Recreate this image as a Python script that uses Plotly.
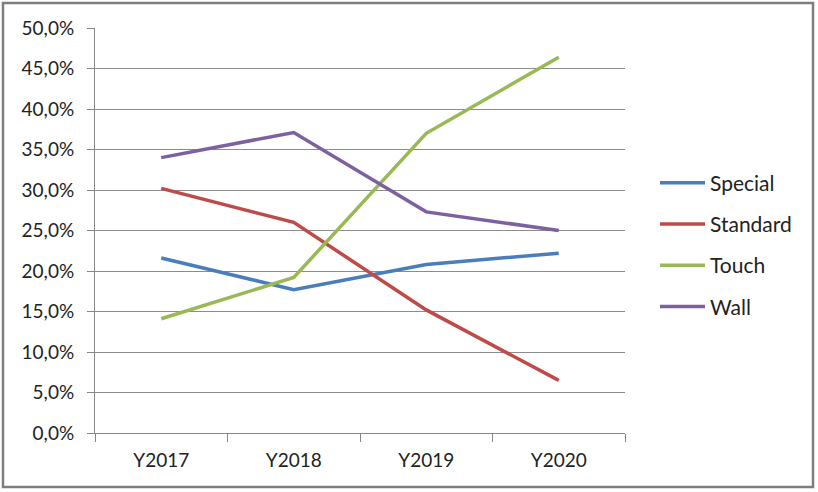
import plotly.graph_objects as go

categories = ["Y2017", "Y2018", "Y2019", "Y2020"]
special = [0.216, 0.177, 0.208, 0.222]
standard = [0.302, 0.260, 0.152, 0.065]
touch = [0.141, 0.192, 0.370, 0.464]
wall = [0.340, 0.371, 0.273, 0.250]

series = [
    ("Special", special, "#4A7EBB"),
    ("Standard", standard, "#BE4B48"),
    ("Touch", touch, "#98B954"),
    ("Wall", wall, "#7D60A0"),
]

fig = go.Figure()
for name, vals, color in series:
    fig.add_trace(go.Scatter(
        x=categories, y=vals, name=name, mode="lines",
        line=dict(color=color, width=3.5), legendgroup=name,
    ))

font_family = "Lato, 'Open Sans', sans-serif"
fig.update_layout(
    width=818, height=492,
    margin=dict(l=95, r=193, t=28, b=59, autoexpand=False),
    paper_bgcolor="white", plot_bgcolor="white",
    separators=",.",
    font=dict(family=font_family, size=19, color="#222222"),
    showlegend=True,
    legend=dict(x=(655-95)/530, xanchor="left", y=(433-245)/405, yanchor="middle",
                tracegroupgap=11, itemwidth=45, font=dict(size=21, family=font_family),
                bgcolor="rgba(0,0,0,0)"),
    xaxis=dict(
        type="category", showgrid=False, showline=True, linecolor="#868686", linewidth=1,
        ticks="outside", tickson="boundaries", ticklen=8, tickcolor="#868686",
        range=[-0.5, 3.5], tickfont=dict(size=19), ticklabelstandoff=10,
    ),
    yaxis=dict(
        range=[0, 0.5], dtick=0.05, tickformat=".1%",
        showgrid=True, gridcolor="#8C8C8C", gridwidth=1,
        showline=True, linecolor="#868686", linewidth=1,
        ticks="outside", ticklen=7, tickcolor="#868686",
        tickfont=dict(size=19), zeroline=False, ticklabelstandoff=9,
    ),
    shapes=[dict(type="rect", xref="paper", yref="paper",
                 x0=-92/530, x1=(813-95)/530, y0=-(487-433)/405, y1=(433-3)/405,
                 line=dict(color="#7F7F7F", width=2.5), fillcolor="rgba(0,0,0,0)", layer="below")],
)

fig.write_html("out.html", config={"displayModeBar": False},
               post_script="document.body.style.margin='0';document.body.style.overflow='hidden';")
